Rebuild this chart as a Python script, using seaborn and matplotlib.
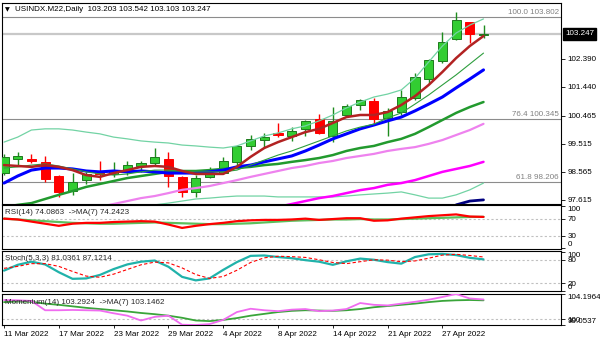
import matplotlib
matplotlib.use("Agg")
import matplotlib.pyplot as plt
import matplotlib.transforms as mtransforms
import numpy as np
import pandas as pd
import seaborn as sns

# ---------------- daily bars, USINDX.M22 ----------------
dates = ["2022-03-11", "2022-03-14", "2022-03-15", "2022-03-16", "2022-03-17", "2022-03-18",
         "2022-03-21", "2022-03-22", "2022-03-23", "2022-03-24", "2022-03-25", "2022-03-28",
         "2022-03-29", "2022-03-30", "2022-03-31", "2022-04-01", "2022-04-04", "2022-04-05",
         "2022-04-06", "2022-04-07", "2022-04-08", "2022-04-11", "2022-04-12", "2022-04-13",
         "2022-04-14", "2022-04-18", "2022-04-19", "2022-04-20", "2022-04-21", "2022-04-22",
         "2022-04-25", "2022-04-26", "2022-04-27", "2022-04-28", "2022-04-29", "2022-05-02"]
opens = [98.52, 99.00, 99.00, 98.90, 98.42, 97.91, 98.28, 98.56, 98.49, 98.62, 98.76, 98.86,
         99.00, 98.39, 97.88, 98.39, 98.52, 98.90, 99.44, 99.64, 99.88, 99.78, 100.02, 100.35,
         99.78, 100.49, 100.83, 100.97, 100.39, 100.59, 101.07, 101.71, 102.32, 103.07, 103.65, 103.203]
highs = [99.17, 99.23, 99.17, 99.10, 98.45, 98.52, 98.56, 98.93, 98.90, 98.93, 98.93, 99.37,
         99.23, 98.42, 98.45, 98.73, 99.07, 99.47, 99.81, 99.88, 100.22, 100.08, 100.32, 100.52,
         100.76, 100.86, 101.03, 101.07, 100.73, 101.34, 101.92, 102.39, 103.31, 103.98, 103.66, 103.542]
lows = [98.45, 98.76, 98.86, 98.22, 97.71, 97.78, 98.15, 98.28, 98.39, 98.45, 98.56, 98.79,
        98.05, 97.71, 97.71, 98.35, 98.49, 98.79, 99.30, 99.40, 99.74, 99.61, 99.78, 99.85,
        99.57, 100.46, 100.66, 100.22, 99.78, 100.49, 101.00, 101.54, 102.25, 103.03, 102.93, 103.103]
closes = [99.07, 99.10, 98.93, 98.32, 97.88, 98.22, 98.49, 98.49, 98.59, 98.79, 98.86, 99.07,
          98.42, 97.88, 98.35, 98.52, 98.93, 99.44, 99.68, 99.74, 99.81, 99.95, 100.29, 99.88,
          100.29, 100.80, 101.00, 100.35, 100.63, 101.10, 101.78, 102.36, 102.97, 103.71, 103.24, 103.247]

# ---------------- overlays on the price chart ----------------
ma_fast = [98.79, 98.76, 98.73, 98.79, 98.73, 98.62, 98.45, 98.39, 98.52, 98.62, 98.73, 98.76,
           98.73, 98.59, 98.49, 98.49, 98.49, 98.73, 99.07, 99.37, 99.57, 99.74, 99.91, 100.02,
           100.22, 100.42, 100.49, 100.49, 100.59, 100.83, 101.13, 101.51, 101.95, 102.42, 102.83, 103.17]
ma_mid = [98.69, 98.73, 98.79, 98.83, 98.76, 98.66, 98.56, 98.49, 98.45, 98.49, 98.56, 98.62,
          98.62, 98.59, 98.56, 98.56, 98.56, 98.62, 98.79, 98.96, 99.13, 99.27, 99.44, 99.61,
          99.78, 99.95, 100.08, 100.18, 100.39, 100.56, 100.86, 101.17, 101.51, 101.85, 102.22, 102.59]
ma_blue = [98.18, 98.42, 98.62, 98.69, 98.69, 98.66, 98.59, 98.56, 98.59, 98.56, 98.59, 98.56,
           98.52, 98.52, 98.52, 98.56, 98.62, 98.73, 98.79, 98.90, 99.00, 99.10, 99.27, 99.47,
           99.68, 99.85, 100.02, 100.15, 100.29, 100.42, 100.63, 100.86, 101.10, 101.41, 101.71, 102.02]
ma_green = [97.37, 97.44, 97.50, 97.64, 97.78, 97.91, 98.05, 98.15, 98.25, 98.35, 98.42, 98.49,
            98.56, 98.59, 98.59, 98.62, 98.66, 98.69, 98.73, 98.79, 98.83, 98.90, 98.96, 99.03,
            99.13, 99.27, 99.37, 99.44, 99.57, 99.68, 99.85, 100.08, 100.32, 100.56, 100.76, 100.93]
nan = float("nan")
ma_violet = [nan] * 7 + [97.37, 97.47, 97.57, 97.67, 97.74, 97.84, 97.95, 98.01, 98.08, 98.18,
                         98.28, 98.39, 98.49, 98.59, 98.69, 98.76, 98.86, 98.93, 99.03, 99.10,
                         99.17, 99.27, 99.34, 99.40, 99.51, 99.64, 99.81, 99.98, 100.19]
ma_magenta = [nan] * 20 + [97.37, 97.47, 97.57, 97.67, 97.74, 97.84, 97.94, 98.01, 98.12, 98.18,
                           98.28, 98.42, 98.56, 98.66, 98.76, 98.90]
band_upper = [99.57, 99.74, 99.98, 100.02, 100.02, 99.98, 99.91, 99.85, 99.74, 99.68, 99.61, 99.57,
              99.54, 99.47, 99.44, 99.40, 99.37, 99.44, 99.61, 99.78, 99.88, 100.02, 100.12, 100.29,
              100.49, 100.73, 100.93, 101.10, 101.20, 101.34, 101.74, 102.29, 102.83, 103.27, 103.54, 103.75]
band_lower = [nan] * 10 + [97.37, 97.44, 97.50, 97.57, 97.64, 97.67, 97.71, 97.74, 97.74, 97.74,
                           97.71, 97.71, 97.71, 97.71, 97.71, 97.74, 97.78, 97.81, 97.84, 97.88,
                           97.78, 97.67, 97.67, 97.78, 97.95, 98.18]
ma_navy = [nan] * 33 + [97.44, 97.57, 97.61]

fib_levels = [103.802, 100.345, 98.206]
fib_labels = ["100.0 103.802", "76.4 100.345", "61.8 98.206"]
last_price = 103.247
price_ticks = [102.390, 101.440, 100.465, 99.515, 98.565, 97.615]

# ---------------- indicator windows ----------------
rsi = [70, 68, 63, 58, 53, 58, 60, 60, 62, 63, 64, 63, 56, 48, 53, 57, 60, 64, 66, 67, 67, 68,
       70, 67, 69, 71, 71, 65, 66, 70, 73, 76, 78, 80, 75, 74.0863]
rsi_ma = [70, 68, 66, 64, 62, 60, 59, 58, 58, 59, 60, 61, 60, 59, 58, 57, 57, 58, 59, 61, 63, 65,
          66, 67, 68, 68, 69, 68, 68, 69, 70, 71, 72, 73, 74, 74.2423]
stoch_main = [52, 67, 75, 68, 48, 31, 32, 41, 56, 68, 75, 78, 62, 36, 27, 32, 54, 74, 90, 91, 87, 84,
              79, 75, 67, 76, 83, 80, 74, 70, 87, 94, 95, 92, 85, 81.0361]
stoch_signal = [58, 63, 70, 70, 63, 50, 38, 35, 43, 55, 67, 74, 72, 59, 42, 32, 37, 53, 73, 85, 89, 88,
                86, 80, 73, 70, 75, 80, 79, 75, 77, 84, 92, 94, 91, 87.1214]
momentum = [103.2, 103.15, 103.05, 101.5, 101.5, 101.55, 101.5, 101.45, 101.0, 100.6, 99.8, 100.4,
            100.6, 99.1, 99.0537, 99.2, 99.9, 101.2, 101.75, 101.5, 101.35, 101.6, 101.7, 101.35,
            101.45, 101.7, 102.7, 102.4, 102.3, 102.6, 102.9, 103.25, 103.7, 104.1964, 103.45, 103.2924]
momentum_ma = [102.85, 102.95, 102.9, 102.6, 102.4, 102.15, 101.9, 101.7, 101.5, 101.3, 101.05, 100.85,
               100.6, 100.25, 99.8, 99.7, 99.9, 100.2, 100.6, 100.9, 101.2, 101.4, 101.5, 101.45,
               101.4, 101.5, 101.7, 102.0, 102.2, 102.4, 102.6, 102.85, 103.05, 103.15, 103.2, 103.1462]

# ---------------- style ----------------
sns.set_style("white")
plt.rcParams["font.family"] = ["Liberation Sans", "DejaVu Sans"]
FS = 5.8

W, H = 600.0, 343.0
BAR_PX = 13.7      # horizontal spacing of bars
X0_PX = 4.0        # centre of the first bar
LEFT_PX, RIGHT_PX = 2.0, 561.0

fig = plt.figure(figsize=(W / 100, H / 100), dpi=100)
fig.patch.set_facecolor("white")


def panel(top, bottom):
    a = fig.add_axes([LEFT_PX / W, 1 - bottom / H, (RIGHT_PX - LEFT_PX) / W, (bottom - top) / H])
    a.set_xlim((LEFT_PX - X0_PX) / BAR_PX, (RIGHT_PX - X0_PX) / BAR_PX)
    a.set_facecolor("white")
    for s in a.spines.values():
        s.set_color("#000000")
        s.set_linewidth(0.8)
    a.yaxis.tick_right()
    a.tick_params(axis="y", direction="out", length=3, width=0.6, pad=1.5,
                  labelsize=FS, colors="#000000")
    a.tick_params(axis="x", bottom=False, labelbottom=False)
    a.grid(False)
    return a


def draw_line(a, values, color, lw, **kw):
    df = pd.DataFrame({"bar": np.arange(len(values)), "val": values}).dropna()
    sns.lineplot(data=df, x="bar", y="val", ax=a, color=color, linewidth=lw,
                 estimator=None, sort=False, legend=False, **kw)
    a.set_xlabel("")
    a.set_ylabel("")


n = len(dates)
idx = np.arange(n)

# ---------------- price window ----------------
ax = panel(3, 204)
ax.set_ylim(97.470, 104.290)

ax.axhline(last_price, color="#C8C8C8", lw=1.6, zorder=1)
for lvl in fib_levels:
    ax.axhline(lvl, color="#8C8C8C", lw=0.8, zorder=1)
lab_tr = mtransforms.offset_copy(mtransforms.blended_transform_factory(ax.transAxes, ax.transData),
                                 fig=fig, x=-2, y=1.5, units="dots")
for lvl, txt in zip(fib_levels, fib_labels):
    ax.text(1.0, lvl, txt, transform=lab_tr, ha="right", va="bottom", fontsize=FS, color="#808080")

# candles
for i in idx:
    o, h, l, c = opens[i], highs[i], lows[i], closes[i]
    up = c >= o
    wick = "#1E8C1E" if up else "#FF0000"
    face = "#32CD32" if up else "#FF0000"
    edge = "#1E7A1E" if up else "#FF0000"
    ax.vlines(i, l, h, color=wick, lw=1.0, zorder=3)
    ax.bar(i, max(abs(c - o), 0.01), bottom=min(o, c), width=0.66, color=face,
           edgecolor=edge, linewidth=0.7, zorder=4)

draw_line(ax, band_lower, "#72D3A4", 0.9, zorder=5)
draw_line(ax, band_upper, "#72D3A4", 0.9, zorder=5)
draw_line(ax, ma_navy, "#000080", 2.0, zorder=5)
draw_line(ax, ma_magenta, "#FF00FF", 1.8, zorder=5)
draw_line(ax, ma_violet, "#EE82EE", 1.6, zorder=5)
draw_line(ax, ma_green, "#229A2E", 1.8, zorder=5)
draw_line(ax, ma_blue, "#0000FF", 2.2, zorder=6)
draw_line(ax, ma_mid, "#2E9E3E", 0.8, zorder=6)
draw_line(ax, ma_fast, "#B22222", 1.8, zorder=7)

ax.set_yticks(price_ticks)
ax.set_yticklabels([f"{v:.3f}" for v in price_ticks])
ax.set_xlim((LEFT_PX - X0_PX) / BAR_PX, (RIGHT_PX - X0_PX) / BAR_PX)
ax.set_ylim(97.470, 104.290)

px_tr = mtransforms.offset_copy(mtransforms.blended_transform_factory(ax.transAxes, ax.transData),
                                fig=fig, x=4, y=0, units="dots")
ax.text(1.0, last_price, "103.247", transform=px_tr, ha="left", va="center", fontsize=FS,
        color="white", clip_on=False, zorder=10,
        bbox=dict(boxstyle="square,pad=0.3", fc="black", ec="black"))

fig.text(5 / W, 1 - 9.5 / H, "\u25BC", fontsize=4.5, color="#000000", va="center", ha="left",
         family=["DejaVu Sans"])
fig.text(15 / W, 1 - 9.5 / H, "USINDX.M22,Daily  103.203 103.542 103.103 103.247",
         fontsize=FS, color="#000000", va="center", ha="left")

# ---------------- RSI window ----------------
ax_r = panel(205, 249)
for lvl in (70, 30):
    ax_r.axhline(lvl, color="#C0C0C0", lw=0.8, ls=(0, (2, 2)), zorder=1)
draw_line(ax_r, rsi_ma, "#5CBF5C", 1.6, zorder=3)
draw_line(ax_r, rsi, "#FF0000", 1.6, zorder=4)
ax_r.set_ylim(-1.9, 102.3)
ax_r.set_yticks([0, 30, 70, 100])
ax_r.set_yticklabels(["0", "30", "70", "100"])
labs = ax_r.get_yticklabels()
labs[0].set_va("bottom")
labs[3].set_va("top")
ax_r.set_xlim((LEFT_PX - X0_PX) / BAR_PX, (RIGHT_PX - X0_PX) / BAR_PX)
fig.text(5 / W, 1 - 212 / H, "RSI(14) 74.0863  ->MA(7) 74.2423", fontsize=FS, va="center", ha="left")

# ---------------- Stochastic window ----------------
ax_s = panel(251, 291)
for lvl in (80, 20):
    ax_s.axhline(lvl, color="#C0C0C0", lw=0.8, ls=(0, (2, 2)), zorder=1)
draw_line(ax_s, stoch_main, "#20B2AA", 1.6, zorder=3)
draw_line(ax_s, stoch_signal, "#FF0000", 0.8, zorder=4, linestyle=(0, (3, 2)))
ax_s.set_ylim(-0.3, 102.5)
ax_s.set_yticks([0, 20, 80, 100])
ax_s.set_yticklabels(["0", "20", "80", "100"])
labs = ax_s.get_yticklabels()
labs[0].set_va("bottom")
labs[3].set_va("top")
ax_s.set_xlim((LEFT_PX - X0_PX) / BAR_PX, (RIGHT_PX - X0_PX) / BAR_PX)
fig.text(5 / W, 1 - 258 / H, "Stoch(5,3,3) 81.0361 87.1214", fontsize=FS, va="center", ha="left")

# ---------------- Momentum window ----------------
ax_m = panel(294, 325)
ax_m.axhline(100, color="#C0C0C0", lw=0.8, ls=(0, (2, 2)), zorder=1)
draw_line(ax_m, momentum_ma, "#3AA53A", 1.3, zorder=3)
draw_line(ax_m, momentum, "#F06CF0", 1.3, zorder=4)
ax_m.set_ylim(99.0537, 104.1964)
ax_m.set_yticks([99.0537, 100, 104.1964])
ax_m.set_yticklabels(["99.0537", "100", "104.1964"])
labs = ax_m.get_yticklabels()
labs[0].set_va("bottom")
labs[2].set_va("top")
ax_m.set_xlim((LEFT_PX - X0_PX) / BAR_PX, (RIGHT_PX - X0_PX) / BAR_PX)
fig.text(5 / W, 1 - 302 / H, "Momentum(14) 103.2924  ->MA(7) 103.1462", fontsize=FS,
         va="center", ha="left")

# date axis under the last window
tick_idx = list(range(0, n, 4))
tick_lbl = [pd.Timestamp(dates[i]).strftime("%d %b %Y").lstrip("0") for i in tick_idx]
ax_m.set_xticks(tick_idx)
ax_m.set_xticklabels(tick_lbl)
ax_m.tick_params(axis="x", bottom=True, labelbottom=True, direction="out", length=2.5,
                 width=0.6, pad=1.5, labelsize=FS, colors="#000000")
for t in ax_m.get_xticklabels():
    t.set_ha("left")

fig.savefig("out.png", dpi=100, facecolor="white")
